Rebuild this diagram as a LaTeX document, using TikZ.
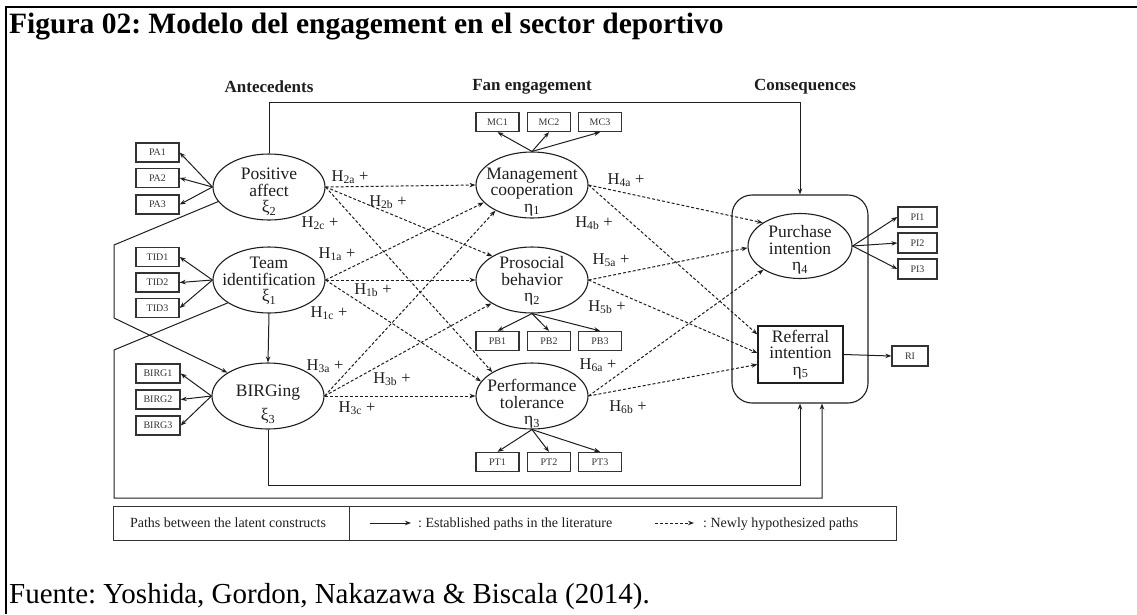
\documentclass[tikz,border=0pt]{standalone}
\usepackage{fontspec}
\setmainfont{Liberation Serif}
\usetikzlibrary{arrows.meta,shapes.geometric,calc}
\frenchspacing

\newcommand{\fsz}[2]{\fontsize{#1}{#2}\selectfont}
\newcommand{\lsub}[1]{\textsubscript{#1}}
\definecolor{ink}{HTML}{1E1E1E}
\definecolor{boxink}{HTML}{333333}

\tikzset{
  ind/.style={draw=boxink, line width=1.3pt, minimum width=43pt, minimum height=19pt,
              inner sep=0pt, font=\fsz{10}{12}, text=boxink},
  latent/.style={ellipse, draw=ink, line width=1.1pt, minimum width=112pt,
                 minimum height=66pt, inner sep=0pt},
  ltxt/.style={align=center, inner sep=0pt, font=\fsz{17.5}{16.5}, text=ink},
  est/.style={draw=ink, line width=1pt, -{Stealth[length=6pt,width=4.5pt]}},
  hyp/.style={est, dash pattern=on 3pt off 2pt},
  hlab/.style={font=\fsz{16.5}{16.5}, inner sep=0pt, text=ink},
  head/.style={font=\bfseries\fsz{17}{17}, inner sep=0pt, text=ink},
  frame/.style={draw=black, line width=2.6pt}
}

\begin{document}
\begin{tikzpicture}[x=1pt,y=-1pt]
\useasboundingbox (0,0) rectangle (1137,614);

% page frame and caption
\coordinate (ftl) at (6,7);
\coordinate (ftr) at (1137,7);
\coordinate (fbl) at (6,614);
\draw[frame] (ftr) -- (ftl) -- (fbl);
\node[anchor=base west, inner sep=0pt, font=\bfseries\fsz{29.5}{30}] (title) at (9,33)
  {Figura 02: Modelo del engagement en el sector deportivo};
\node[anchor=base west, inner sep=0pt, font=\fsz{29}{29}] (source) at (9,603)
  {Fuente: Yoshida, Gordon, Nakazawa \& Biscala (2014).};

% column headers
\node[head] (h1) at (269,87) {Antecedents};
\node[head] (h2) at (532,87) {Fan engagement};
\node[head] (h3) at (805,87) {Consequences};

% consequences container
\node[draw=ink, line width=1.1pt, rounded corners=20pt, minimum width=136pt,
      minimum height=208pt, inner sep=0pt] (cbox) at (800,299) {};

% latent constructs (text set as a centred label, nudged down)
\node[latent, label={[ltxt, yshift=-5pt, name=pat]center:{Positive\\affect\\ξ\lsub{2}}}] (pa) at (269,187) {};
\node[latent, label={[ltxt, yshift=-1pt, name=tit]center:{Team\\identification\\ξ\lsub{1}}}] (ti) at (269,280) {};
\node[latent, label={[ltxt, yshift=-8pt, name=birgt]center:{BIRGing\\[8pt]ξ\lsub{3}}}] (birg) at (268,396) {};
\node[latent, label={[ltxt, yshift=-7pt, name=mct]center:{Management\\cooperation\\η\lsub{1}}}] (mc) at (532,185) {};
\node[latent, label={[ltxt, yshift=-1pt, name=pbt]center:{Prosocial\\behavior\\η\lsub{2}}}] (pb) at (532,280) {};
\node[latent, label={[ltxt, yshift=-8pt, name=ptt]center:{Performance\\tolerance\\η\lsub{3}}}] (pt) at (532,396) {};
\node[latent, minimum width=104pt, minimum height=65pt,
      label={[ltxt, yshift=-4pt, name=pit]center:{Purchase\\intention\\η\lsub{4}}}] (pi) at (800,246) {};
\node[draw=ink, line width=1.3pt, minimum width=85pt, minimum height=57pt,
      inner sep=0pt, align=center, font=\fsz{17.5}{16.5}, text=ink] (ri) at (800.5,354.5)
  {Referral\\intention\\η\lsub{5}};

% indicators
\node[ind] (pa1) at (157.5,152.5) {PA1};
\node[ind] (pa2) at (157.5,178) {PA2};
\node[ind] (pa3) at (157.5,204.5) {PA3};
\node[ind] (tid1) at (157.5,257) {TID1};
\node[ind] (tid2) at (157.5,282.5) {TID2};
\node[ind] (tid3) at (157.5,308) {TID3};
\node[ind, minimum width=44pt] (bi1) at (158,373.5) {BIRG1};
\node[ind, minimum width=44pt] (bi2) at (158,399.5) {BIRG2};
\node[ind, minimum width=44pt] (bi3) at (158,425.5) {BIRG3};
\node[ind] (mc1) at (497.5,122) {MC1};
\node[ind] (mc2) at (549,122) {MC2};
\node[ind] (mc3) at (600,122) {MC3};
\node[ind] (pb1) at (497.5,341) {PB1};
\node[ind] (pb2) at (549,341) {PB2};
\node[ind] (pb3) at (600,341) {PB3};
\node[ind] (pt1) at (497.5,462) {PT1};
\node[ind] (pt2) at (549,462) {PT2};
\node[ind] (pt3) at (600,462) {PT3};
\node[ind, minimum width=39pt, minimum height=20pt] (pi1) at (917.5,217) {PI1};
\node[ind, minimum width=39pt, minimum height=20pt] (pi2) at (917.5,243) {PI2};
\node[ind, minimum width=39pt, minimum height=20pt] (pi3) at (917.5,269) {PI3};
\node[ind, minimum width=36pt, minimum height=20pt] (rix) at (910,356) {RI};

% measurement arrows
\foreach \s/\t in {pa/pa1,pa/pa2,pa/pa3,ti/tid1,ti/tid2,ti/tid3,birg/bi1,birg/bi2,birg/bi3}
  \draw[est] (\s.west) -- (\t.east);
\foreach \t in {mc1,mc2,mc3} \draw[est] (mc.north) -- (\t.south);
\foreach \t in {pb1,pb2,pb3} \draw[est] (pb.south) -- (\t.north);
\foreach \t in {pt1,pt2,pt3} \draw[est] (pt.south) -- (\t.north);
\foreach \t in {pi1,pi2,pi3} \draw[est] (pi.east) -- (\t.west);
\draw[est] (ri.east) -- (rix.west);

% established structural paths
\draw[est] (ti.south) -- (birg.north);
\coordinate (ka) at (269,102);
\draw[est] (pa.north) -- (ka) -| (cbox.north);
\coordinate (kb1) at (114,245);
\coordinate (kb2) at (114,318);
\draw[est] (pa.196) -- (kb1) -- (kb2) -- (birg.150);
\coordinate (kc1) at (114,350);
\coordinate (kc2) at (114,498);
\coordinate (kc3) at (822,498);
\draw[est] (ti.209) -- (kc1) -- (kc2) -- (kc3) -- (kc3 |- cbox.south);
\coordinate (kd) at (268,485);
\draw[est] (birg.south) -- (kd) -| (cbox.south);

% hypothesized paths
\draw[hyp] (pa.east) -- (mc.west);
\draw[hyp] (pa.east) -- (pb.149);
\draw[hyp] (pa.east) -- (pt.149);
\draw[hyp] (ti.east) -- (mc.200);
\draw[hyp] (ti.east) -- (pb.west);
\draw[hyp] (ti.east) -- (pt.164);
\draw[hyp] (birg.east) -- (mc.215);
\draw[hyp] (birg.east) -- (pb.210);
\draw[hyp] (birg.east) -- (pt.west);
\draw[hyp] (mc.east) -- (pi.148);
\draw[hyp] (mc.east) -- (ri.155);
\draw[hyp] (pb.east) -- (pi.182);
\draw[hyp] (pb.east) -- (ri.178);
\draw[hyp] (pt.east) -- (pi.213);
\draw[hyp] (pt.east) -- (ri.193);

% hypothesis labels
\node[hlab] (l2a) at (350,177) {H\lsub{2a} +};
\node[hlab] (l2b) at (388,202) {H\lsub{2b} +};
\node[hlab] (l2c) at (320,223) {H\lsub{2c} +};
\node[hlab] (l1a) at (337,254) {H\lsub{1a} +};
\node[hlab] (l1b) at (373,290) {H\lsub{1b} +};
\node[hlab] (l1c) at (329,313) {H\lsub{1c} +};
\node[hlab] (l3a) at (325,366) {H\lsub{3a} +};
\node[hlab] (l3b) at (392,379) {H\lsub{3b} +};
\node[hlab] (l3c) at (357,408) {H\lsub{3c} +};
\node[hlab] (l4a) at (626,180) {H\lsub{4a} +};
\node[hlab] (l4b) at (594,223) {H\lsub{4b} +};
\node[hlab] (l5a) at (611,260) {H\lsub{5a} +};
\node[hlab] (l5b) at (607,307) {H\lsub{5b} +};
\node[hlab] (l6a) at (598,365) {H\lsub{6a} +};
\node[hlab] (l6b) at (628,407) {H\lsub{6b} +};

% legend
\node[draw=boxink, line width=1pt, minimum width=783pt, minimum height=34pt,
      inner sep=0pt] (lg) at (504.5,523) {};
\coordinate (dv) at (349,523);
\draw[draw=boxink, line width=1pt] (dv |- lg.north) -- (dv |- lg.south);
\node[inner sep=0pt, font=\fsz{14}{14}, text=ink] (lt1) at (228,523) {Paths between the latent constructs};
\coordinate (sa1) at (370,523);
\coordinate (sa2) at (411,523);
\draw[est] (sa1) -- (sa2);
\node[anchor=west, inner sep=0pt, font=\fsz{14}{14}, text=ink] (lt2) at (418,524) {: Established paths in the literature};
\coordinate (da1) at (655,523);
\coordinate (da2) at (694,523);
\draw[hyp] (da1) -- (da2);
\node[anchor=west, inner sep=0pt, font=\fsz{14}{14}, text=ink] (lt3) at (703,524) {: Newly hypothesized paths};
\end{tikzpicture}
\end{document}
